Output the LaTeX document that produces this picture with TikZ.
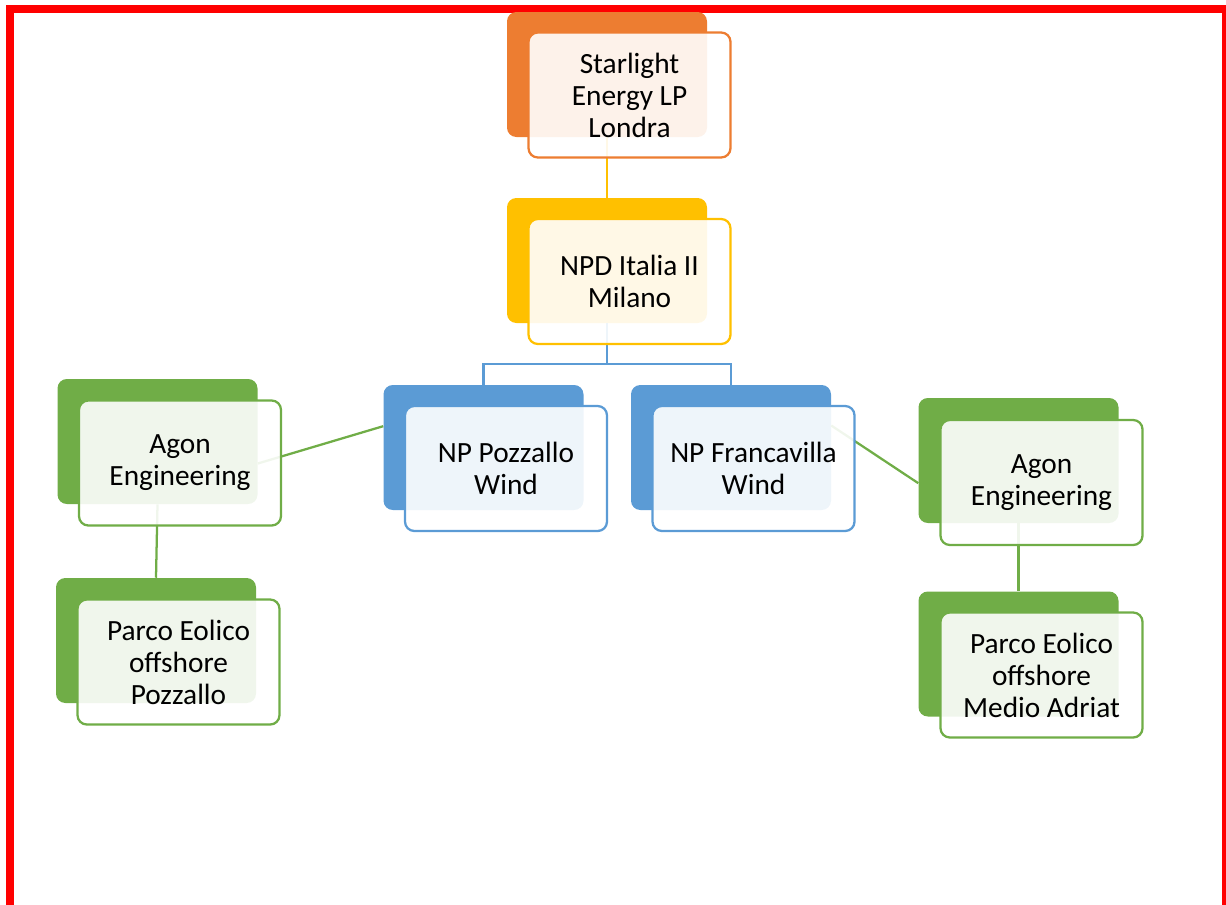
\documentclass[tikz,border=0pt]{standalone}
\usepackage{fontspec}
\setmainfont{Carlito}
\usetikzlibrary{positioning}
\definecolor{orgOrange}{RGB}{237,125,49}
\definecolor{orgGold}{RGB}{255,192,0}
\definecolor{orgBlue}{RGB}{91,155,213}
\definecolor{orgGreen}{RGB}{112,173,71}
\begin{document}
\begin{tikzpicture}[x=0.75pt,y=0.75pt,yscale=-1,xscale=1,
  backbox/.style={fill=#1, draw=none, rounded corners=7pt, minimum width=150pt, minimum height=93.75pt, inner sep=0pt},
  frontbox/.style={draw=#1, line width=1.7pt, fill=white, fill opacity=0.9, text opacity=1, rounded corners=7pt, minimum width=151.5pt, minimum height=93.75pt, inner sep=0pt, align=center, font=\fontsize{22}{24}\selectfont},
  link/.style={draw=#1, line width=1.7pt}]
\useasboundingbox (0,0) rectangle (1226,904);
\clip (0,0) rectangle (1226,904);
%Frame
\draw [red, line width=6pt] (10,9) rectangle (1226,914);
%Back shapes
\node [backbox=orgOrange] (starb) at (607,74.5) {};
\node [backbox=orgGold] (npdb) at (607,260.5) {};
\node [backbox=orgBlue] (pozb) at (483.5,447.5) {};
\node [backbox=orgBlue] (frab) at (731,447.5) {};
\node [backbox=orgGreen] (agonlb) at (157.5,441.5) {};
\node [backbox=orgGreen] (parcolb) at (156,640.5) {};
\node [backbox=orgGreen] (agonrb) at (1018.5,460.5) {};
\node [backbox=orgGreen] (parcorb) at (1018.5,654) {};
%Connectors
\draw [link=orgGold] (starb.south) -- (npdb.north);
\coordinate (fork) at (607,364);
\draw [link=orgBlue] (npdb.south) -- (fork) -| (pozb.north);
\draw [link=orgBlue] (fork) -| (frab.north);
\draw [link=orgGreen] ([yshift=16.5pt]agonlb.east) -- ([yshift=-16pt]pozb.west);
\draw [link=orgGreen] ([yshift=-16.5pt]frab.east) -- ([yshift=17pt]agonrb.west);
\draw [link=orgGreen] (agonlb.south) -- (parcolb.north);
\draw [link=orgGreen] (agonrb.south) -- (parcorb.north);
%Text shapes
\node [frontbox=orgOrange] (star) at (629.5,95) {Starlight\\Energy LP\\Londra};
\node [frontbox=orgGold] (npd) at (629.5,281.5) {NPD Italia II\\Milano};
\node [frontbox=orgBlue] (poz) at (506,468.5) {NP Pozzallo\\Wind};
\node [frontbox=orgBlue] (fra) at (753.5,468.5) {NP Francavilla\\Wind};
\node [frontbox=orgGreen] (agonl) at (180,463) {Agon\\Engineering};
\node [frontbox=orgGreen] (parcol) at (178.5,662) {Parco Eolico\\offshore\\Pozzallo};
\node [frontbox=orgGreen] (agonr) at (1041.5,482.5) {Agon\\Engineering};
\node [frontbox=orgGreen] (parcor) at (1041.5,675) {Parco Eolico\\offshore\\Medio Adriat};
\end{tikzpicture}
\end{document}
